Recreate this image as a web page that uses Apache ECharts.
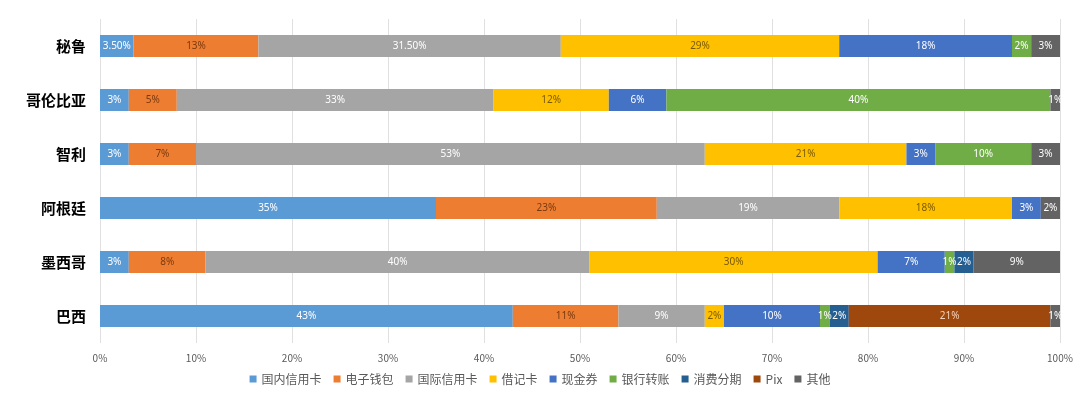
<!DOCTYPE html>
<html><head><meta charset="utf-8">
<script src="https://cdn.jsdelivr.net/npm/echarts@6/dist/echarts.min.js"></script>
<style>html,body{margin:0;padding:0;background:#fff}#c{width:1080px;height:395px}</style>
</head><body><div id="c"></div>
<script>
const countries = ['秘鲁','哥伦比亚','智利','阿根廷','墨西哥','巴西'];
const seriesNames = ['国内信用卡','电子钱包','国际信用卡','借记卡','现金券','银行转账','消费分期','Pix','其他'];
const domesticCredit = [3.5, 3, 3, 35, 3, 43];
const eWallet        = [13, 5, 7, 23, 8, 11];
const intlCredit     = [31.5, 33, 53, 19, 40, 9];
const debitCard      = [29, 12, 21, 18, 30, 2];
const cashVoucher    = [18, 6, 3, 3, 7, 10];
const bankTransfer   = [2, 40, 10, 0, 1, 1];
const installment    = [0, 0, 0, 0, 2, 2];
const pix            = [0, 0, 0, 0, 0, 21];
const other          = [3, 1, 3, 2, 9, 1];
const xTicks = ['0%','10%','20%','30%','40%','50%','60%','70%','80%','90%','100%'];

const values = [domesticCredit, eWallet, intlCredit, debitCard, cashVoucher, bankTransfer, installment, pix, other];
const colors = ['#5B9BD5','#ED7D31','#A5A5A5','#FFC000','#4472C4','#70AD47','#255E91','#9E480E','#636363'];
const labelColors = ['#ffffff','#7a3a10','#ffffff','#7a5a00','#ffffff','#ffffff','#ffffff','#f3d3bd','#ffffff'];

const chart = echarts.init(document.getElementById('c'));
chart.setOption({
  animation: false,
  textStyle: { fontFamily: 'Noto Sans CJK SC, Noto Sans, sans-serif' },
  grid: { left: 100, right: 20, top: 19, bottom: 52, containLabel: false },
  legend: {
    bottom: 5, left: 'center', itemWidth: 7, itemHeight: 7, itemGap: 12,
    icon: 'rect',
    textStyle: { color: '#595959', fontSize: 12, fontFamily: 'Noto Sans CJK SC, sans-serif' },
    data: seriesNames
  },
  xAxis: {
    type: 'value', min: 0, max: 100, interval: 10,
    axisLabel: { color: '#595959', fontSize: 10, margin: 10,
      formatter: v => xTicks[Math.round(v / 10)] },
    splitLine: { lineStyle: { color: '#E0E0E0', width: 1 } },
    axisLine: { show: false }, axisTick: { show: false }
  },
  yAxis: {
    type: 'category', inverse: true, data: countries,
    axisLabel: { color: '#000', fontSize: 15, fontWeight: 'bold', margin: 14,
      fontFamily: 'Noto Sans CJK SC, sans-serif' },
    axisLine: { show: false }, axisTick: { show: false }
  },
  series: seriesNames.map((name, i) => ({
    name, type: 'bar', stack: 'total', barWidth: 22,
    itemStyle: { color: colors[i] },
    label: {
      show: true, position: 'inside', fontSize: 10, color: labelColors[i],
      fontFamily: 'Noto Sans, sans-serif',
      formatter: p => p.value === 0 ? '' : (Number.isInteger(p.value) ? p.value + '%' : p.value.toFixed(2) + '%')
    },
    labelLayout: { hideOverlap: false },
    data: values[i]
  }))
});
</script></body></html>
